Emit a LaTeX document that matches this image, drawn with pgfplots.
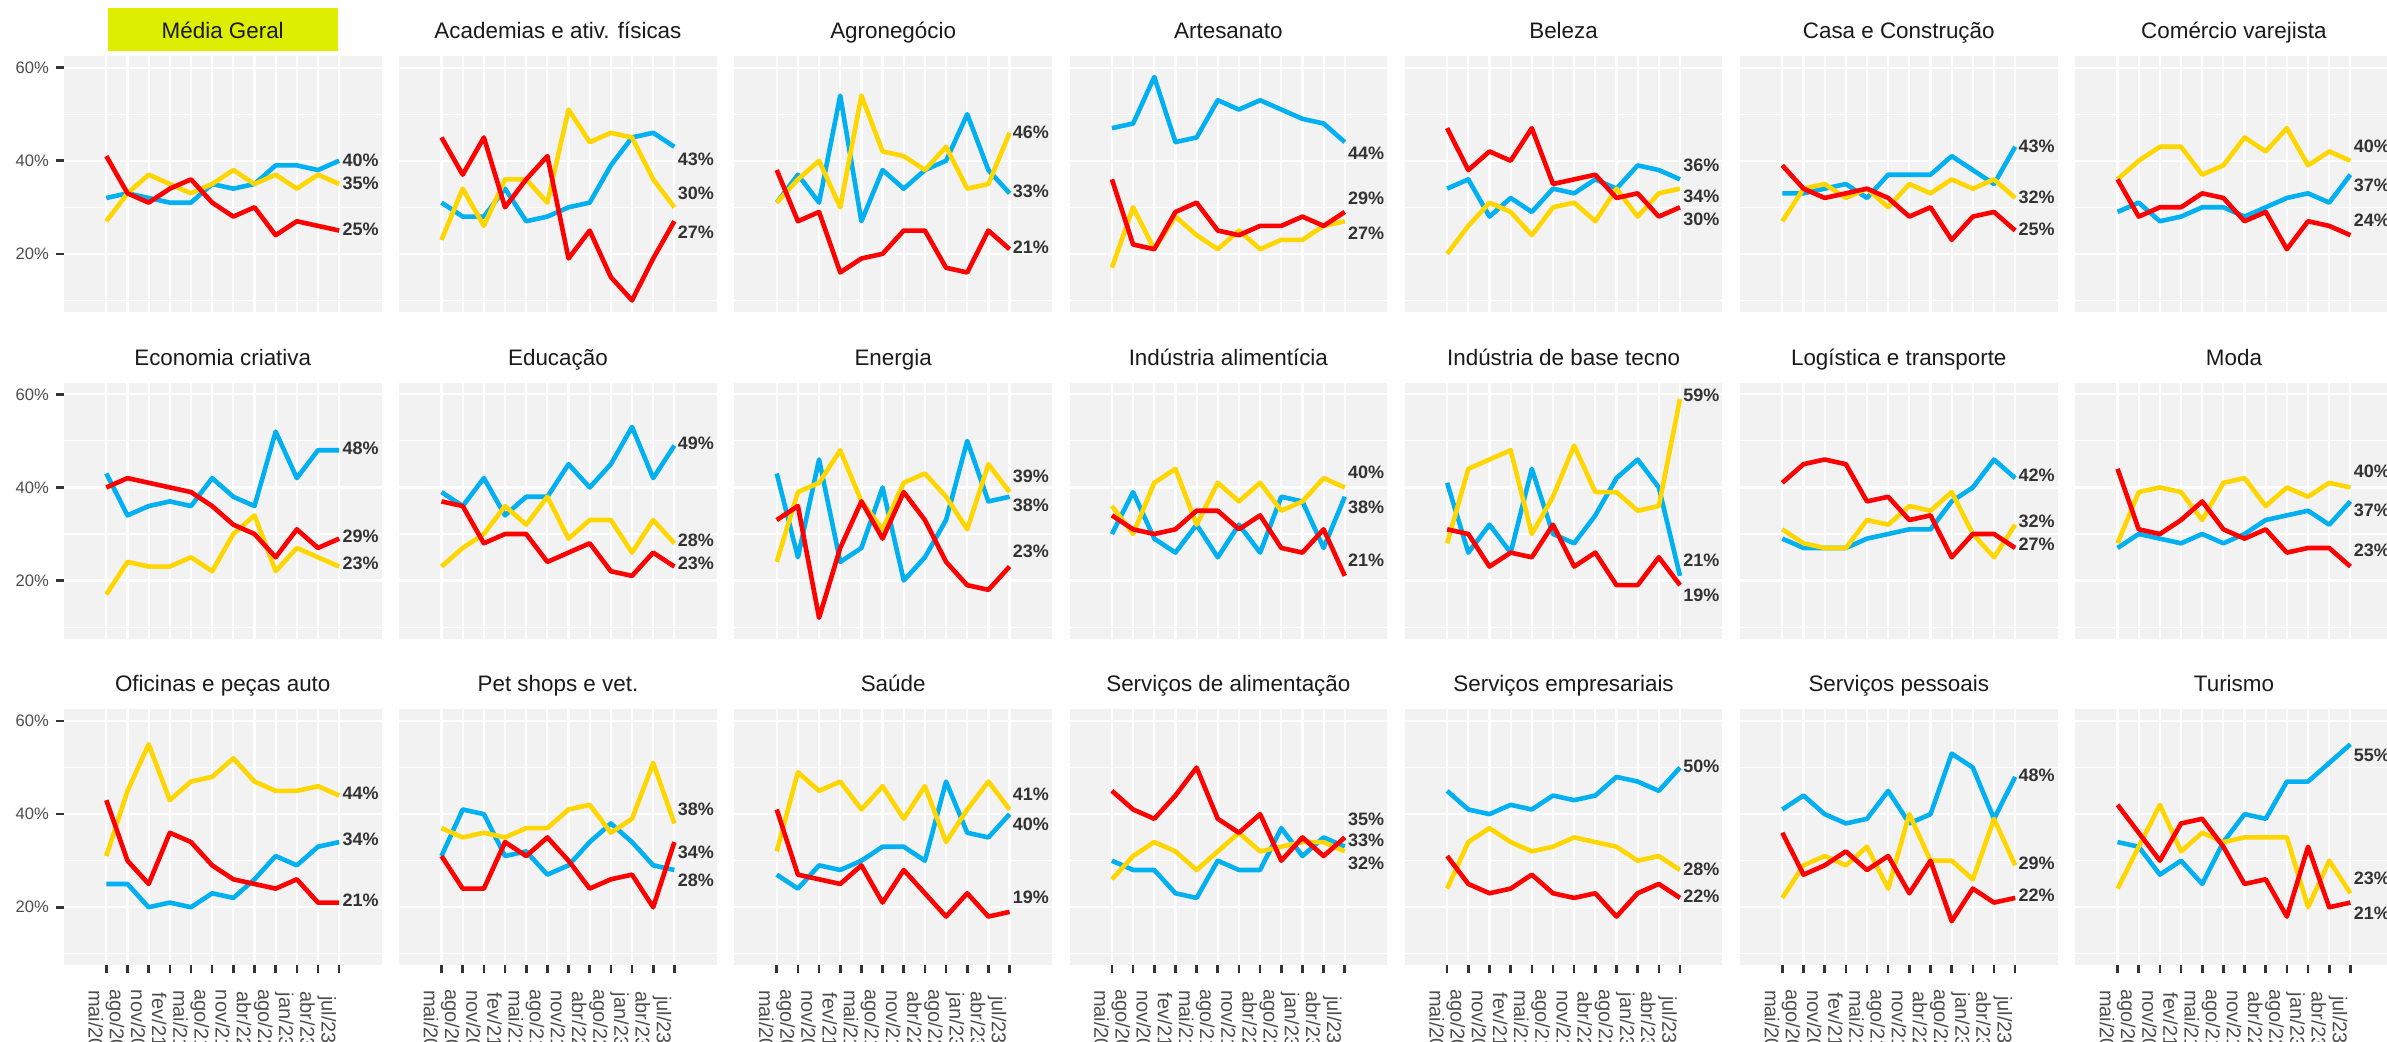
\documentclass[border=0pt]{standalone}
\usepackage{fontspec}
\setmainfont{Liberation Sans}
\usepackage{pgfplots}
\pgfplotsset{compat=1.18}

\definecolor{cb}{RGB}{0,176,240}
\definecolor{cy}{RGB}{255,214,0}
\definecolor{cr}{RGB}{255,0,0}
\definecolor{panelbg}{RGB}{242,242,242}
\definecolor{tickc}{RGB}{51,51,51}
\definecolor{axtext}{RGB}{77,77,77}
\definecolor{labc}{RGB}{51,51,51}
\definecolor{titc}{RGB}{26,26,26}
\definecolor{hl}{RGB}{221,238,0}

\tikzset{endlab/.style={anchor=west, inner sep=0pt, xshift=1.5pt, font=\bfseries\fontsize{9}{10}\selectfont, text=labc}}

\pgfplotsset{
  panel/.style={
    scale only axis, width=158.75pt, height=128pt, anchor=north west,
    xmin=-1, xmax=14, ymin=7.5, ymax=62.5,
    axis background/.style={fill=panelbg},
    axis line style={draw=none},
    xtick={1,...,12}, ytick={20,40,60}, minor ytick={10,30,50},
    xmajorgrids=true, ymajorgrids=true, yminorgrids=true,
    grid style={white, line width=1.1pt},
    minor grid style={white, line width=0.55pt},
    xmajorticks=false, ymajorticks=false, minor tick length=0pt,
    tick align=outside, major tick length=4pt, tick pos=left,
    tick style={draw=tickc, line width=1.3pt},
    xticklabels={}, yticklabels={},
    yticklabel style={font=\fontsize{8.3}{10}\selectfont, text=axtext},
    xticklabel style={font=\fontsize{10}{11}\selectfont, text=axtext, rotate=-90, anchor=north, inner xsep=0pt, inner ysep=1.35pt},
    xticklabel shift=23.3pt,
    every axis title/.style={at={(0.5,1)}, anchor=base, yshift=8.8pt, font=\fontsize{11.2}{13}\selectfont, text=titc},
    clip=false,
  },
  firstcol/.style={ymajorticks=true, yticklabels={20\%,40\%,60\%}},
  lastrow/.style={xmajorticks=true, xticklabels={mai/20,ago/20,nov/20,fev/21,mai/21,ago/21,nov/21,abr/22,ago/22,jan/23,abr/23,jul/23}},
  ser/.style={line width=2.3pt, line join=round, mark=none},
}

\newcommand\lab[2]{\node[endlab] at (axis cs:12,#1) {#2\%};}
% #1 axis options, #2 inline table (i = period index, B = blue, Y = yellow, R = red), #3 end labels
\newcommand\panel[3]{%
\begin{axis}[panel,#1]
\addplot[ser,cb] table[x=i,y=B,row sep=\\]{#2};
\addplot[ser,cy] table[x=i,y=Y,row sep=\\]{#2};
\addplot[ser,cr] table[x=i,y=R,row sep=\\]{#2};
#3
\end{axis}}

\begin{document}
\begin{tikzpicture}
\useasboundingbox (0,0) rectangle (1193.5pt,-520.5pt);
% row 1
\panel{at={(32pt,-28pt)},firstcol,title={Média Geral},title style={fill=hl, text height=15.15pt, text depth=6.35pt, inner ysep=0pt, minimum width=115pt}}
{i B Y R\\1 32 27 41\\2 33 33 33\\3 32 37 31\\4 31 35 34\\5 31 33 36\\6 35 35 31\\7 34 38 28\\8 35 35 30\\9 39 37 24\\10 39 34 27\\11 38 37 26\\12 40 35 25\\}
{\lab{40.1}{40}\lab{35.2}{35}\lab{25.2}{25}}
\panel{at={(199.6pt,-28pt)},title={Academias e ativ. físicas}}
{i B Y R\\1 31 23 45\\2 28 34 37\\3 28 26 45\\4 34 36 30\\5 27 36 36\\6 28 31 41\\7 30 51 19\\8 31 44 25\\9 39 46 15\\10 45 45 10\\11 46 36 19\\12 43 30 27\\}
{\lab{40.4}{43}\lab{32.9}{30}\lab{24.7}{27}}
\panel{at={(367.2pt,-28pt)},title={Agronegócio}}
{i B Y R\\1 31 31 38\\2 37 36 27\\3 31 40 29\\4 54 30 16\\5 27 54 19\\6 38 42 20\\7 34 41 25\\8 38 38 25\\9 40 43 17\\10 50 34 16\\11 38 35 25\\12 33 46 21\\}
{\lab{46.2}{46}\lab{33.4}{33}\lab{21.3}{21}}
\panel{at={(534.8pt,-28pt)},title={Artesanato}}
{i B Y R\\1 47 17 36\\2 48 30 22\\3 58 21 21\\4 44 28 29\\5 45 24 31\\6 53 21 25\\7 51 25 24\\8 53 21 26\\9 51 23 26\\10 49 23 28\\11 48 26 26\\12 44 27 29\\}
{\lab{41.5}{44}\lab{32}{29}\lab{24.5}{27}}
\panel{at={(702.4pt,-28pt)},title={Beleza}}
{i B Y R\\1 34 20 47\\2 36 26 38\\3 28 31 42\\4 32 29 40\\5 29 24 47\\6 34 30 35\\7 33 31 36\\8 36 27 37\\9 34 34 32\\10 39 28 33\\11 38 33 28\\12 36 34 30\\}
{\lab{39}{36}\lab{32.3}{34}\lab{27.5}{30}}
\panel{at={(870pt,-28pt)},title={Casa e Construção}}
{i B Y R\\1 33 27 39\\2 33 34 34\\3 34 35 32\\4 35 32 33\\5 32 34 34\\6 37 30 32\\7 37 35 28\\8 37 33 30\\9 41 36 23\\10 38 34 28\\11 35 36 29\\12 43 32 25\\}
{\lab{43.1}{43}\lab{32.2}{32}\lab{25.2}{25}}
\panel{at={(1037.6pt,-28pt)},title={Comércio varejista}}
{i B Y R\\1 29 36 36\\2 31 40 28\\3 27 43 30\\4 28 43 30\\5 30 37 33\\6 30 39 32\\7 28 45 27\\8 30 42 29\\9 32 47 21\\10 33 39 27\\11 31 42 26\\12 37 40 24\\}
{\lab{43.1}{40}\lab{34.7}{37}\lab{27.2}{24}}
% row 2
\panel{at={(32pt,-191.35pt)},firstcol,title={Economia criativa}}
{i B Y R\\1 43 17 40\\2 34 24 42\\3 36 23 41\\4 37 23 40\\5 36 25 39\\6 42 22 36\\7 38 30 32\\8 36 34 30\\9 52 22 25\\10 42 27 31\\11 48 25 27\\12 48 23 29\\}
{\lab{48.5}{48}\lab{29.5}{29}\lab{23.6}{23}}
\panel{at={(199.6pt,-191.35pt)},title={Educação}}
{i B Y R\\1 39 23 37\\2 36 27 36\\3 42 30 28\\4 34 36 30\\5 38 32 30\\6 38 38 24\\7 45 29 26\\8 40 33 28\\9 45 33 22\\10 53 26 21\\11 42 33 26\\12 49 28 23\\}
{\lab{49.5}{49}\lab{28.6}{28}\lab{23.6}{23}}
\panel{at={(367.2pt,-191.35pt)},title={Energia}}
{i B Y R\\1 43 24 33\\2 25 39 36\\3 46 41 12\\4 24 48 27\\5 27 37 37\\6 40 31 29\\7 20 41 39\\8 25 43 33\\9 33 38 24\\10 50 31 19\\11 37 45 18\\12 38 39 23\\}
{\lab{42.4}{39}\lab{36.1}{38}\lab{26.2}{23}}
\panel{at={(534.8pt,-191.35pt)},title={Indústria alimentícia}}
{i B Y R\\1 30 36 34\\2 39 30 31\\3 29 41 30\\4 26 44 31\\5 32 32 35\\6 25 41 35\\7 32 37 31\\8 26 41 34\\9 38 35 27\\10 37 37 26\\11 27 42 31\\12 38 40 21\\}
{\lab{43.2}{40}\lab{35.8}{38}\lab{24.3}{21}}
\panel{at={(702.4pt,-191.35pt)},title={Indústria de base tecno}}
{i B Y R\\1 41 28 31\\2 26 44 30\\3 32 46 23\\4 26 48 26\\5 44 30 25\\6 30 38 32\\7 28 49 23\\8 34 39 26\\9 42 39 19\\10 46 35 19\\11 40 36 25\\12 21 59 19\\}
{\lab{59.7}{59}\lab{24.4}{21}\lab{16.9}{19}}
\panel{at={(870pt,-191.35pt)},title={Logística e transporte}}
{i B Y R\\1 29 31 41\\2 27 28 45\\3 27 27 46\\4 27 27 45\\5 29 33 37\\6 30 32 38\\7 31 36 33\\8 31 35 34\\9 37 39 25\\10 40 30 30\\11 46 25 30\\12 42 32 27\\}
{\lab{42.7}{42}\lab{32.7}{32}\lab{27.7}{27}}
\panel{at={(1037.6pt,-191.35pt)},title={Moda}}
{i B Y R\\1 27 28 44\\2 30 39 31\\3 29 40 30\\4 28 39 33\\5 30 33 37\\6 28 41 31\\7 30 42 29\\8 33 36 31\\9 34 40 26\\10 35 38 27\\11 32 41 27\\12 37 40 23\\}
{\lab{43.4}{40}\lab{35}{37}\lab{26.4}{23}}
% row 3
\panel{at={(32pt,-354.7pt)},firstcol,lastrow,title={Oficinas e peças auto}}
{i B Y R\\1 25 31 43\\2 25 45 30\\3 20 55 25\\4 21 43 36\\5 20 47 34\\6 23 48 29\\7 22 52 26\\8 26 47 25\\9 31 45 24\\10 29 45 26\\11 33 46 21\\12 34 44 21\\}
{\lab{44.4}{44}\lab{34.5}{34}\lab{21.6}{21}}
\panel{at={(199.6pt,-354.7pt)},lastrow,title={Pet shops e vet.}}
{i B Y R\\1 31 37 31\\2 41 35 24\\3 40 36 24\\4 31 35 34\\5 32 37 31\\6 27 37 35\\7 29 41 30\\8 34 42 24\\9 38 36 26\\10 34 39 27\\11 29 51 20\\12 28 38 34\\}
{\lab{41.1}{38}\lab{31.8}{34}\lab{25.7}{28}}
\panel{at={(367.2pt,-354.7pt)},lastrow,title={Saúde}}
{i B Y R\\1 27 32 41\\2 24 49 27\\3 29 45 26\\4 28 47 25\\5 30 41 29\\6 33 46 21\\7 33 39 28\\8 30 46 23\\9 47 34 18\\10 36 41 23\\11 35 47 18\\12 40 41 19\\}
{\lab{44.2}{41}\lab{37.9}{40}\lab{22.2}{19}}
\panel{at={(534.8pt,-354.7pt)},lastrow,title={Serviços de alimentação}}
{i B Y R\\1 30 26 45\\2 28 31 41\\3 28 34 39\\4 23 32 44\\5 22 28 50\\6 30 32 39\\7 28 36 36\\8 28 32 40\\9 37 33 30\\10 31 34 35\\11 35 34 31\\12 33 32 35\\}
{\lab{38.8}{35}\lab{34.4}{33}\lab{29.4}{32}}
\panel{at={(702.4pt,-354.7pt)},lastrow,title={Serviços empresariais}}
{i B Y R\\1 45 24 31\\2 41 34 25\\3 40 37 23\\4 42 34 24\\5 41 32 27\\6 44 33 23\\7 43 35 22\\8 44 34 23\\9 48 33 18\\10 47 30 23\\11 45 31 25\\12 50 28 22\\}
{\lab{50.3}{50}\lab{28.2}{28}\lab{22.3}{22}}
\panel{at={(870pt,-354.7pt)},lastrow,title={Serviços pessoais}}
{i B Y R\\1 41 22 36\\2 44 29 27\\3 40 31 29\\4 38 29 32\\5 39 33 28\\6 45 24 31\\7 38 40 23\\8 40 30 30\\9 53 30 17\\10 50 26 24\\11 39 39 21\\12 48 29 22\\}
{\lab{48.3}{48}\lab{29.5}{29}\lab{22.5}{22}}
\panel{at={(1037.6pt,-354.7pt)},lastrow,title={Turismo}}
{i B Y R\\1 34 24 42\\2 33 33 36\\3 27 42 30\\4 30 32 38\\5 25 36 39\\6 34 34 33\\7 40 35 25\\8 39 35 26\\9 47 35 18\\10 47 20 33\\11 51 30 20\\12 55 23 21\\}
{\lab{52.6}{55}\lab{26.3}{23}\lab{18.7}{21}}
\end{tikzpicture}
\end{document}
